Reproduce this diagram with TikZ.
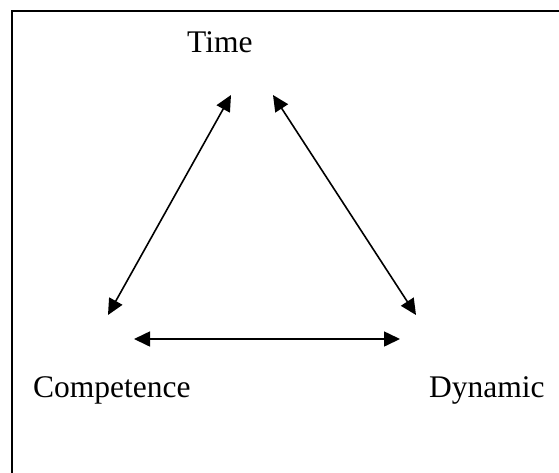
\documentclass[tikz,border=0pt]{standalone}
\usepackage{fontspec}
\setmainfont{Liberation Serif}
\usetikzlibrary{arrows.meta}
\begin{document}
\begin{tikzpicture}[x=1pt,y=-1pt,
  lbl/.style={font=\fontsize{31.5}{36}\selectfont, inner sep=0pt, anchor=base west},
  link/.style={{Triangle[length=16pt,width=15pt]}-{Triangle[length=16pt,width=15pt]}, line width=1.6pt},
  frame/.style={line width=1.5pt}]
\useasboundingbox (0,0) rectangle (559,472);
\draw[frame] (12,490) -- (12,11) -- (580,11);
\node[lbl] (time) at (187,52) {Time};
\node[lbl] (comp) at (33,397) {Competence};
\node[lbl] (dyn) at (429,397) {Dynamic};
\coordinate (tl) at (231,95);
\coordinate (tr) at (273,95);
\coordinate (bl) at (108,315);
\coordinate (br) at (416,315);
\coordinate (hl) at (134,339);
\coordinate (hr) at (400,339);
\draw[link] (tl) -- (bl);
\draw[link] (tr) -- (br);
\draw[link] (hl) -- (hr);
\end{tikzpicture}
\end{document}
